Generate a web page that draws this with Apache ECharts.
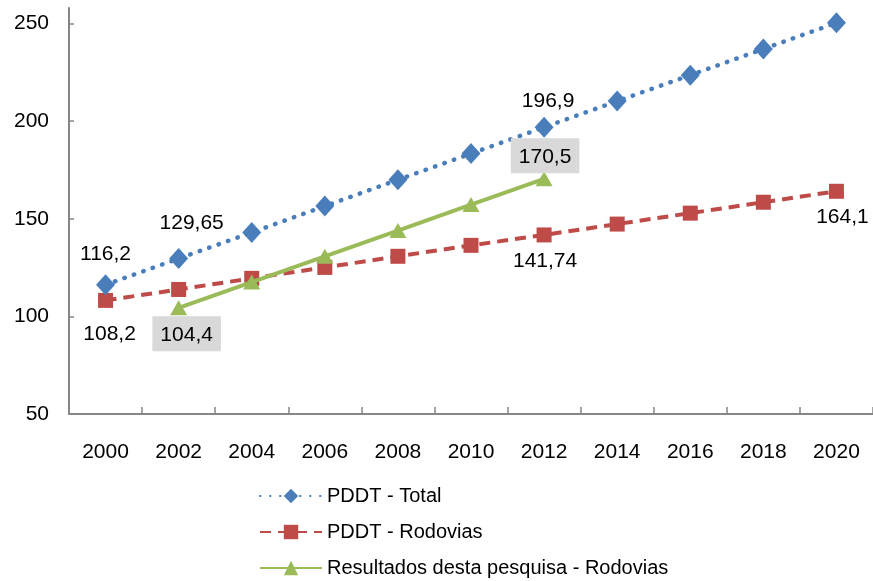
<!DOCTYPE html>
<html>
<head>
<meta charset="utf-8">
<script src="https://cdn.jsdelivr.net/npm/echarts@6/dist/echarts.min.js"></script>
<style>
html,body{margin:0;padding:0;background:#fff;}
#chart{width:873px;height:581px;}
</style>
</head>
<body>
<div id="chart"></div>
<script>
var years = ['2000','2002','2004','2006','2008','2010','2012','2014','2016','2018','2020'];
var yTicks = [50, 100, 150, 200, 250];
var seriesNames = ['PDDT - Total', 'PDDT - Rodovias', 'Resultados desta pesquisa - Rodovias'];
var pddtTotal = [116.2, 129.65, 143.0, 156.5, 170.0, 183.4, 196.9, 210.3, 223.6, 237.0, 250.4];
var pddtRodovias = [108.2, 113.8, 119.5, 125.1, 130.8, 136.4, 141.74, 147.3, 152.9, 158.5, 164.1];
var pesquisa = [null, 104.4, 117.6, 130.8, 144.0, 157.3, 170.5, null, null, null, null];

var FONT = '"Liberation Sans", Arial, sans-serif';
var FS = 21;
function fmt(v){ return String(v).replace('.', ','); }

function lbl(pos, dist, off, extra){
  var o = {show:true, position:pos, distance:dist, offset:off, color:'#000', fontSize:FS, fontFamily:FONT,
    formatter:function(p){ return fmt(p.value); }};
  if (extra) for (var k in extra) o[k] = extra[k];
  return o;
}

var totalData = pddtTotal.map(function(v,i){
  var d = {value:v};
  if (i===0) d.label = lbl('top', 10, [0,0]);
  if (i===1) d.label = lbl('top', 14, [13,0]);
  if (i===6) d.label = lbl('top', 5, [4,0]);
  return d;
});
var rodData = pddtRodovias.map(function(v,i){
  var d = {value:v};
  if (i===0) d.label = lbl('bottom', 16, [4,0]);
  if (i===6) d.label = lbl('bottom', 8, [1,0]);
  if (i===10) d.label = lbl('bottom', 8, [6,0]);
  return d;
});
var boxStyle = {backgroundColor:'#d9d9d9', padding:[8,8,6,8]};
var pesqData = pesquisa.map(function(v,i){
  if (v === null) return '-';
  var d = {value:v};
  if (i===1) d.label = lbl('bottom', 1, [8,0], boxStyle);
  if (i===6) d.label = lbl('top', 0, [1,2], boxStyle);
  return d;
});

var chart = echarts.init(document.getElementById('chart'), null, {renderer:'canvas'});
chart.setOption({
  animation:false,
  backgroundColor:'#fff',
  grid:{left:69, top:8, width:805, bottom:167, containLabel:false},
  legend:{
    orient:'vertical', left:259, top:486, height:100, padding:0, itemGap:16, itemWidth:62, itemHeight:18,
    textStyle:{fontSize:20, fontFamily:FONT, color:'#000'},
    data:seriesNames
  },
  xAxis:{
    type:'category', data:years, boundaryGap:true,
    axisLine:{lineStyle:{color:'#868686', width:2}},
    axisTick:{show:true, inside:true, length:7, lineStyle:{color:'#868686', width:1.5}},
    axisLabel:{color:'#000', fontSize:FS, fontFamily:FONT, margin:28},
    splitLine:{show:false}
  },
  yAxis:{
    type:'value', min:50, max:258, interval:50,
    axisLine:{show:true, lineStyle:{color:'#868686', width:2}},
    axisTick:{show:true, inside:true, length:5, lineStyle:{color:'#868686', width:1.5}, customValues:yTicks},
    axisLabel:{color:'#000', fontSize:FS, fontFamily:FONT, margin:20, customValues:yTicks,
      formatter:function(v){ return yTicks.indexOf(v) >= 0 ? String(v) : ''; }},
    splitLine:{show:false}
  },
  series:[
    {name:seriesNames[0], type:'line', data:totalData, symbol:'diamond', symbolSize:[19,21],
      itemStyle:{color:'#4a7ebb'}, lineStyle:{color:'#4a7ebb', width:4.5, type:[0.5,9.5], cap:'round'}, z:3},
    {name:seriesNames[1], type:'line', data:rodData, symbol:'rect', symbolSize:15,
      itemStyle:{color:'#be4b48'}, lineStyle:{color:'#be4b48', width:4, type:[11,7]}, z:2},
    {name:seriesNames[2], type:'line', data:pesqData, symbol:'triangle', symbolSize:[17,15], connectNulls:false,
      itemStyle:{color:'#9bbb59'}, lineStyle:{color:'#9bbb59', width:4}, z:4}
  ]
});
</script>
</body>
</html>
